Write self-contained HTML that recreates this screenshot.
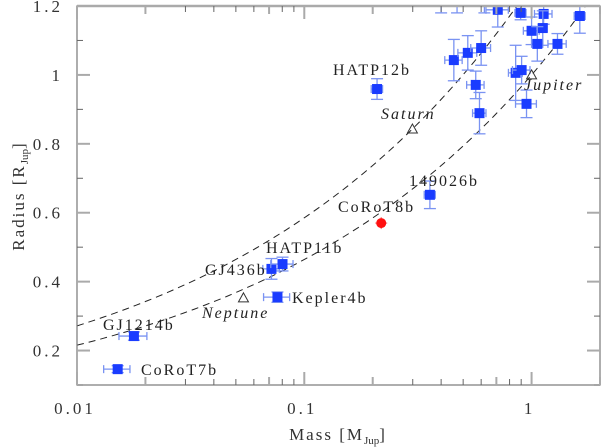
<!DOCTYPE html>
<html><head><meta charset="utf-8"><style>
html,body{margin:0;padding:0;background:#fff;}
svg{display:block;font-family:"Liberation Serif",serif;}
</style></head><body>
<svg id="chart" width="601" height="448" viewBox="0 0 601 448" xmlns="http://www.w3.org/2000/svg">
<defs><clipPath id="pc"><rect x="77" y="6" width="523" height="379"/></clipPath></defs>
<g id="curves" clip-path="url(#pc)"></g>
<g id="points" clip-path="url(#pc)"></g>
<g id="axes"></g>
<g id="labels"></g>
</svg>
<script>
const planetNames = ["CoRoT7b","GJ1214b","Kepler4b","GJ436b","HATP11b","149026b","HATP12b","a","b","c","d","e","f","g","h","i","j","k","l","m","n","o","p","q","r","s"];
const planetMass = [0.0151,0.0178,0.0762,0.0717,0.0802,0.357,0.209,0.71,0.895,1.13,1.63,1.0,1.12,1.06,1.30,0.455,0.524,0.60,0.851,0.904,0.568,0.95,0.59,0.40,0.47,0.62];
const planetRadius = [0.146,0.242,0.355,0.437,0.451,0.652,0.959,1.189,1.18,1.177,1.171,1.128,1.136,1.09,1.09,1.043,1.064,1.078,1.006,1.014,0.971,0.916,0.889,1.30,1.28,1.32];
const massErr = [0.002,0.0025,0.01,0.006,0.009,0.02,0.012,0.08,0.05,0.1,0.09,0.08,0.05,0.06,0.12,0.04,0.05,0.06,0.06,0.08,0.05,0.1,0.04,0.03,0.04,0.05];
const radiusErr = [0.01,0.012,0.015,0.03,0.02,0.04,0.03,0.05,0.02,0.03,0.05,0.04,0.05,0.05,0.03,0.06,0.05,0.05,0.08,0.04,0.04,0.04,0.06,0.12,0.1,0.14];
const redMass = [0.218], redRadius = [0.570];
const solarNames = ["Neptune","Saturn","Jupiter"];
const solarMass = [0.054,0.299,1.0];
const solarRadius = [0.353,0.843,1.0];
const yTicks = [0.2,0.4,0.6,0.8,1,1.2];
const yTickLabels = ["0.2","0.4","0.6","0.8","1","1.2"];
const xTicks = [0.01,0.1,1];
const xTickLabels = ["0.01","0.1","1"];

const L=77,R=600,T=6,B=385, xmin=0.01,xmax=2,ymin=0.1,ymax=1.2;
const sx=m=>L+(Math.log10(m)-Math.log10(xmin))/(Math.log10(xmax)-Math.log10(xmin))*(R-L);
const sy=r=>B-(r-ymin)/(ymax-ymin)*(B-T);
const NS="http://www.w3.org/2000/svg";
function mk(tag,attrs,parent){const e=document.createElementNS(NS,tag);for(const k in attrs)e.setAttribute(k,attrs[k]);parent.appendChild(e);return e;}
const gC=document.getElementById('curves'),gP=document.getElementById('points'),gA=document.getElementById('axes'),gL=document.getElementById('labels');

[[1.0,'jupiter-density-curve'],[0.843/Math.pow(0.299,1/3),'saturn-density-curve']].forEach(([k,n])=>{
  let d='';for(let i=0;i<=100;i++){const lm=-2+i*2.35/100;const m=Math.pow(10,lm);d+=(i?'L':'M')+sx(m).toFixed(1)+','+sy(k*Math.cbrt(m)).toFixed(1);}
  const p=mk('path',{d:d,fill:'none',stroke:'#222','stroke-width':1,'stroke-dasharray':'7,5'},gC);
  
  
});

for(let i=0;i<planetMass.length;i++){
  const m=planetMass[i],r=planetRadius[i],x=sx(m),y=sy(r);
  const g=mk('g',{},gP);
  
  
  const c='#7a93f2';
  const x1=sx(m-massErr[i]),x2=sx(m+massErr[i]),y1=sy(r+radiusErr[i]),y2=sy(r-radiusErr[i]);
  mk('line',{x1:x1,y1:y,x2:x2,y2:y,stroke:c,'stroke-width':1.3},g);
  mk('line',{x1:x1,y1:y-4,x2:x1,y2:y+4,stroke:c,'stroke-width':1.3},g);
  mk('line',{x1:x2,y1:y-4,x2:x2,y2:y+4,stroke:c,'stroke-width':1.3},g);
  mk('line',{x1:x,y1:y1,x2:x,y2:y2,stroke:c,'stroke-width':1.3},g);
  mk('line',{x1:x-6,y1:y1,x2:x+6,y2:y1,stroke:c,'stroke-width':1.3},g);
  mk('line',{x1:x-6,y1:y2,x2:x+6,y2:y2,stroke:c,'stroke-width':1.3},g);
  mk('rect',{x:x-5,y:y-5,width:10,height:10,fill:'#1a3cff'},g);
}
for(let i=0;i<redMass.length;i++){
  const x=sx(redMass[i]),y=sy(redRadius[i]);
  const g=mk('g',{},gP);
  
  
  mk('line',{x1:x-6,y1:y,x2:x+6,y2:y,stroke:'#f08080','stroke-width':1.2},g);
  mk('line',{x1:x,y1:y-6,x2:x,y2:y+6,stroke:'#f08080','stroke-width':1.2},g);
  mk('circle',{cx:x,cy:y,r:5,fill:'#ff1010'},g);
}
for(let i=0;i<solarMass.length;i++){
  const x=sx(solarMass[i]),y=sy(solarRadius[i]);
  const t=mk('path',{d:`M${x},${y-5}L${x+5},${y+4}L${x-5},${y+4}Z`,fill:'none',stroke:'#333','stroke-width':1},gP);
  
  
}

const fr=mk('rect',{x:L,y:T,width:R-L,height:B-T,fill:'none',stroke:'#777','stroke-width':1.2},gA);


mk('line',{x1:L,y1:T,x2:R,y2:T,stroke:'#aaa','stroke-width':2.5},gA);
for(let v=0.1;v<=1.2001;v+=0.1){
  const y=sy(v);const major=Math.abs((v*10)%2)<0.01||Math.abs((v*10)%2-2)<0.01;
  mk('line',{x1:L,y1:y,x2:L+(major?13:6),y2:y,stroke:major?'#aaa':'#666','stroke-width':major?2:1},gA);
  mk('line',{x1:R,y1:y,x2:R-(major?13:6),y2:y,stroke:major?'#aaa':'#666','stroke-width':major?2:1},gA);
}
yTicks.forEach((v,i)=>{
  const t=mk('text',{x:63,y:sy(v)+6,'text-anchor':'end','font-size':17,'letter-spacing':3,fill:'#333'},gA);
  t.textContent=yTickLabels[i];
  
  
});
for(let d=-2;d<=0;d++)for(let k=1;k<=9;k++){
  const m=k*Math.pow(10,d);if(m>xmax)continue;const x=sx(m);
  const major=k==1, mid=k==2||k==7;
  const len=major?13:(mid?8:6);
  mk('line',{x1:x,y1:B,x2:x,y2:B-len,stroke:(major||mid)?'#aaa':'#666','stroke-width':(major||mid)?2:1},gA);
  mk('line',{x1:x,y1:T,x2:x,y2:T+len,stroke:(major||mid)?'#aaa':'#666','stroke-width':(major||mid)?2:1},gA);
}
xTicks.forEach((v,i)=>{
  const t=mk('text',{x:sx(v)-2,y:414,'text-anchor':'middle','font-size':17,'letter-spacing':3,fill:'#333'},gA);
  t.textContent=xTickLabels[i];
  
  
});

const labelData=[["HATP12b",333,75,0],["Saturn",381,119,1],["Jupiter",524,90,1],["149026b",409,186,0],["CoRoT8b",338,212,0],["HATP11b",266,253,0],["GJ436b",205,275,0],["Kepler4b",292,303,0],["Neptune",202,318,1],["GJ1214b",103,330,0],["CoRoT7b",141,375,0]];
labelData.forEach(l=>{
  const t=mk('text',{x:l[1],y:l[2],'font-size':16,'letter-spacing':2,fill:'#222'},gL);
  if(l[3])t.setAttribute('font-style','italic');
  t.textContent=l[0];
  
  
});
const xl=mk('text',{x:338,y:440,'text-anchor':'middle','font-size':17,'letter-spacing':2,fill:'#333'},gA);
xl.innerHTML='Mass [M<tspan font-size="11" dy="4" letter-spacing="0">Jup</tspan><tspan dy="-4">]</tspan>';


const yl=mk('text',{x:0,y:0,'text-anchor':'middle','font-size':17,'letter-spacing':2,fill:'#333',transform:'translate(24,196) rotate(-90)'},gA);
yl.innerHTML='Radius [R<tspan font-size="11" dy="4" letter-spacing="0">Jup</tspan><tspan dy="-4">]</tspan>';


</script>
</body></html>
